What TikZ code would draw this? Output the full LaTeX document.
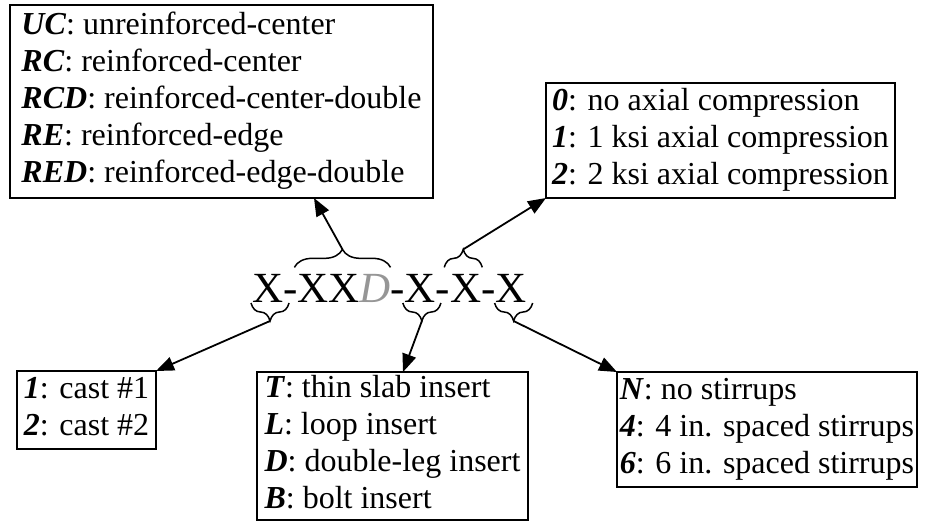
\documentclass[tikz,border=0pt]{standalone}
\usepackage{fontspec}
\setmainfont{Liberation Serif}
\usetikzlibrary{arrows.meta,decorations.pathreplacing,calc}
\definecolor{dgray}{RGB}{150,150,150}
\newcommand{\bi}[1]{\textbf{\textit{#1}}}
\begin{document}
\begin{tikzpicture}[x=1pt,y=-1pt,
  lbl/.style={draw,line width=1.8pt,inner sep=0pt,outer sep=0pt,align=left,
    font=\fontsize{32}{37}\selectfont,anchor=north west},
  code/.style={inner sep=0pt,outer sep=0pt,anchor=base west,font=\fontsize{43}{50}\selectfont},
  brc/.style={decorate,decoration={brace,amplitude=18pt},line width=1.5pt},
  conn/.style={line width=1.8pt,-{Triangle[length=18pt,width=14pt]}}
]
\useasboundingbox (0,0) rectangle (925,522);

% boxes
\node[lbl,minimum width=423pt,minimum height=193pt] (tl) at (10,5)
  {\strut\bi{UC}: unreinforced-center\\
   \strut\bi{RC}: reinforced-center\\
   \strut\bi{RCD}: reinforced-center-double\\
   \strut\bi{RE}: reinforced-edge\\
   \strut\bi{RED}: reinforced-edge-double};
\node[lbl,minimum width=349pt,minimum height=115pt] (tr) at (546,83)
  {\strut\bi{0}: no axial compression\\
   \strut\bi{1}: 1 ksi axial compression\\
   \strut\bi{2}: 2 ksi axial compression};
\node[lbl,minimum width=139pt,minimum height=78pt] (b1) at (17,371)
  {\strut\bi{1}: cast \#1\\
   \strut\bi{2}: cast \#2};
\node[lbl,minimum width=271pt,minimum height=148pt] (b2) at (257,372)
  {\strut\bi{T}: thin slab insert\\
   \strut\bi{L}: loop insert\\
   \strut\bi{D}: double-leg insert\\
   \strut\bi{B}: bolt insert};
\node[lbl,minimum width=300pt,minimum height=115pt] (b3) at (617,372)
  {\strut\bi{N}: no stirrups\\
   \strut\bi{4}: 4 in. spaced stirrups\\
   \strut\bi{6}: 6 in. spaced stirrups};

% code string
\node[code] (p1) at (252,302) {X};
\node[code] (h1) at (p1.base east) {-};
\node[code] (p2) at (h1.base east) {XX\textcolor{dgray}{\textit{D}}};
\node[code] (h2) at (p2.base east) {-};
\node[code] (p3) at (h2.base east) {X};
\node[code] (h3) at (p3.base east) {-};
\node[code] (p4) at (h3.base east) {X};
\node[code] (h4) at (p4.base east) {-};
\node[code] (p5) at (h4.base east) {X};

% top braces
\coordinate (a1) at ([xshift=-3pt,yshift=6.5pt]p2.north west);
\coordinate (a2) at ([xshift=0pt,yshift=6.5pt]p2.north east);
\draw[brc] (a1) -- (a2);
\coordinate (ta) at ($(a1)!0.5!(a2)+(0,-18)$);
\coordinate (c1) at ([xshift=-6pt,yshift=6.5pt]p4.north west);
\coordinate (c2) at ([xshift=1pt,yshift=6.5pt]p4.north east);
\draw[brc] (c1) -- (c2);
\coordinate (tc) at ($(c1)!0.5!(c2)+(0,-18)$);

% bottom braces
\coordinate (d1) at ([xshift=-1pt,yshift=-1pt]p1.base west);
\coordinate (d2) at ([xshift=6pt,yshift=-1pt]p1.base east);
\draw[brc] (d2) -- (d1);
\coordinate (td) at ($(d1)!0.5!(d2)+(0,18)$);
\coordinate (e1) at ([xshift=-2pt,yshift=-1pt]p3.base west);
\coordinate (e2) at ([xshift=5pt,yshift=-1pt]p3.base east);
\draw[brc] (e2) -- (e1);
\coordinate (te) at ($(e1)!0.5!(e2)+(0,18)$);
\coordinate (f1) at ([xshift=-1pt,yshift=-1pt]p5.base west);
\coordinate (f2) at ([xshift=6pt,yshift=-1pt]p5.base east);
\draw[brc] (f2) -- (f1);
\coordinate (tf) at ($(f1)!0.5!(f2)+(0,18)$);

% connectors
\draw[conn] (ta) -- ([xshift=92.5pt]tl.south);
\draw[conn] (tc) -- (tr.south west);
\draw[conn] (td) -- (b1.north east);
\draw[conn] (te) -- ([xshift=10.5pt]b2.north);
\draw[conn] (tf) -- (b3.north west);
\end{tikzpicture}
\end{document}
